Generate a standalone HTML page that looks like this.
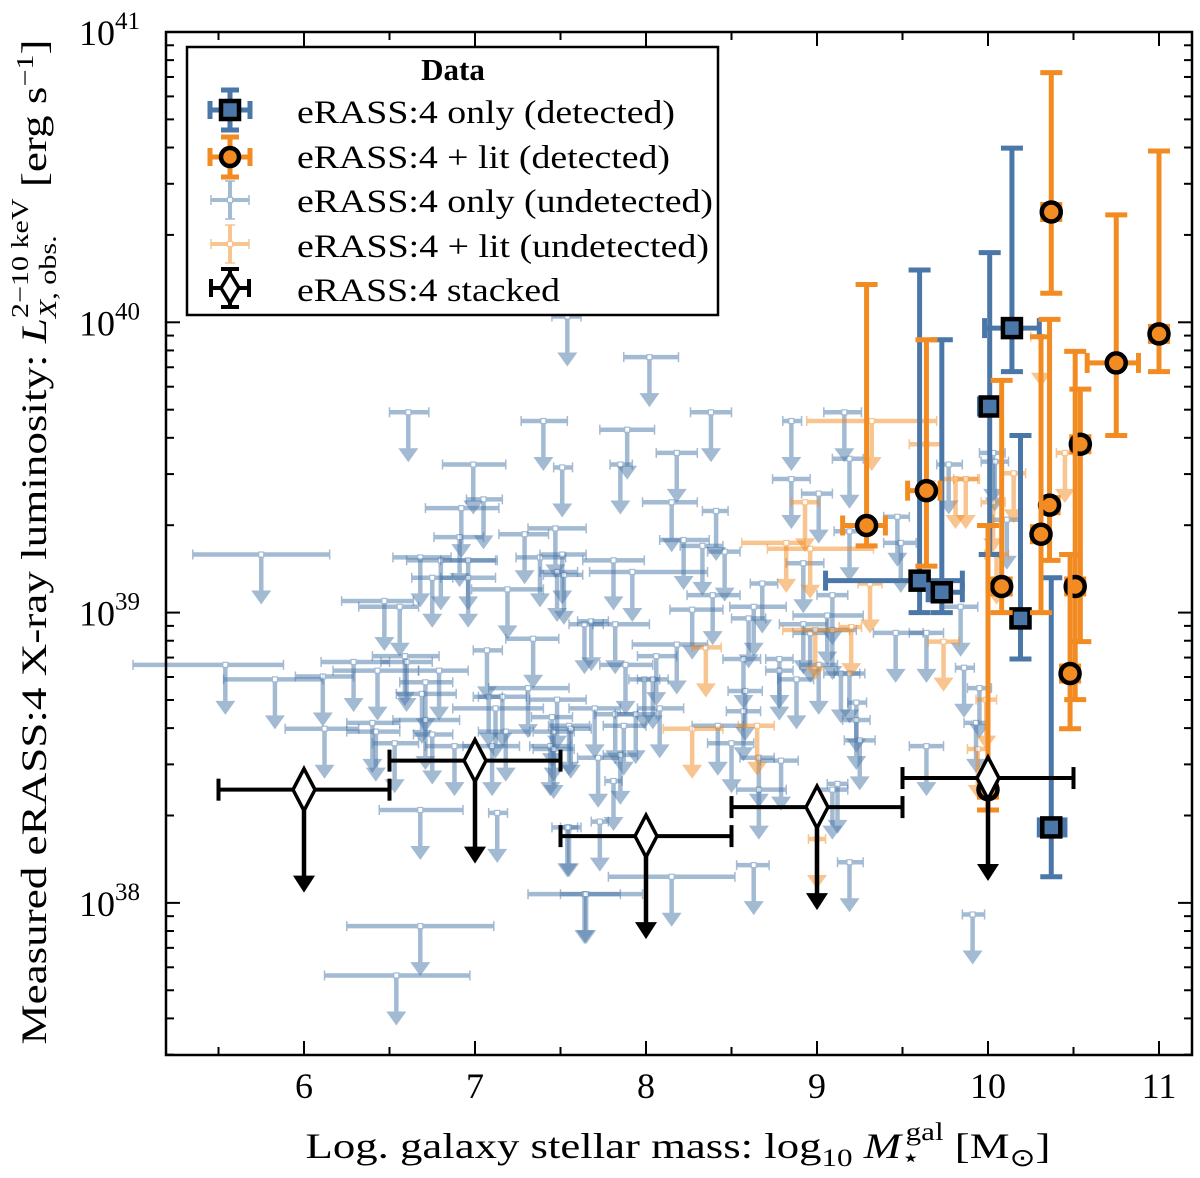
<!DOCTYPE html>
<html><head><meta charset="utf-8">
<style>
html,body{margin:0;padding:0;background:#fff;}
svg{display:block;font-family:"Liberation Serif",serif;}
</style></head>
<body>
<svg id="chart" xmlns="http://www.w3.org/2000/svg" width="1200" height="1178" viewBox="0 0 1200 1178">
  <g id="marks"></g>
  <g id="axes"></g>
  <g id="legend">
    <rect x="187" y="47" width="531" height="268" fill="#fff" stroke="#000" stroke-width="2.5"/>
    <text x="453" y="80" font-size="31" font-weight="bold" text-anchor="middle">Data</text>
    <g id="legmarks"></g>
    <text x="297" y="123" font-size="33" textLength="378" lengthAdjust="spacingAndGlyphs">eRASS:4 only (detected)</text>
    <text x="297" y="168" font-size="33" textLength="373" lengthAdjust="spacingAndGlyphs">eRASS:4 + lit (detected)</text>
    <text x="297" y="212" font-size="33" textLength="416" lengthAdjust="spacingAndGlyphs">eRASS:4 only (undetected)</text>
    <text x="297" y="257" font-size="33" textLength="412" lengthAdjust="spacingAndGlyphs">eRASS:4 + lit (undetected)</text>
    <text x="297" y="301" font-size="33" textLength="263" lengthAdjust="spacingAndGlyphs">eRASS:4 stacked</text>
  </g>
  <text transform="translate(46,542) rotate(-90)" font-size="36" text-anchor="middle" textLength="1005" lengthAdjust="spacingAndGlyphs">Measured eRASS:4 X-ray luminosity: <tspan font-style="italic">L</tspan><tspan font-size="24" dy="10" font-style="italic">X</tspan><tspan font-size="24">, obs.</tspan><tspan font-size="24" dx="-66" dy="-28">2−10 keV</tspan><tspan dy="18"> [erg s</tspan><tspan font-size="24" dy="-13">−1</tspan><tspan dy="13">]</tspan></text>
  <text x="678" y="1158" font-size="36" text-anchor="middle" textLength="745" lengthAdjust="spacingAndGlyphs">Log. galaxy stellar mass: log<tspan font-size="25" dy="8">10</tspan><tspan dy="-8"> </tspan><tspan font-style="italic">M</tspan><tspan font-size="25" dy="8">⋆</tspan><tspan font-size="25" dx="-12" dy="-26">gal</tspan><tspan dy="18"> [M</tspan><tspan font-size="25" dy="8">⊙</tspan><tspan dy="-8">]</tspan></text>
</svg>
<script>
// ---- data ----
// blue undetected upper limits: x, x-lower, x-upper, log L
const bux  =[6.61,6.99,7.40,7.51,5.75,6.92,7.05,6.91,6.68,6.80,6.96,6.75,6.96,7.19,7.29,7.47,7.38,7.51,7.48,7.52,6.47,6.56,7.34,5.54,5.83,6.11,6.29,6.43,6.59,6.60,6.79,6.71,6.69,6.71,6.75,6.12,6.40,6.42,6.53,6.88,7.07,7.08,7.16,7.12,7.18,7.10,7.31,7.48,7.45,7.46,7.44,7.46,7.55,6.68,7.13,7.55,6.68,6.54,7.64,7.64,
 7.54,8.02,8.38,7.89,7.85,8.18,8.15,8.41,8.22,8.33,8.46,7.81,7.92,8.85,9.16,9.19,8.85,9.01,9.19,9.47,9.49,9.77,10.03,10.04,10.11,9.84,8.68,8.39,8.63,8.60,8.92,9.09,8.27,9.06,8.92,8.96,9.09,7.68,7.82,8.18,8.06,7.88,8.57,8.78,8.78,8.88,9.01,9.14,9.19,9.46,9.64,9.86,9.95,9.93,8.58,8.57,8.42,8.50,8.66,8.79,8.66,9.23,9.23,9.25,9.64,9.12,9.09,8.63,9.19,8.15,7.65,9.91,7.54,7.73,7.81,7.72,7.87,7.99,8.04,8.08,7.70,7.82,7.94,7.56,7.85];
const buxlo=[6.50,6.81,7.27,7.46,5.35,6.71,6.95,6.76,6.52,6.60,6.80,6.63,6.80,6.98,7.14,7.31,7.24,7.38,7.38,7.40,6.22,6.32,7.18,5.0,5.53,5.95,6.10,6.17,6.40,6.45,6.67,6.56,6.54,6.52,6.64,5.89,6.25,6.25,6.40,6.71,6.99,6.99,7.02,6.87,7.02,6.93,7.08,7.32,7.33,7.34,7.32,7.34,7.43,6.44,7.08,7.50,6.25,6.12,7.31,7.55,
 7.45,7.87,8.26,7.73,7.79,8.06,7.98,8.33,8.08,8.20,8.36,7.63,7.67,8.80,9.04,9.09,8.74,8.91,9.10,9.39,9.39,9.70,9.95,9.96,10.03,9.74,8.61,8.24,8.49,8.50,8.82,9.00,8.14,8.86,8.78,8.86,8.92,7.60,7.69,7.92,7.95,7.73,8.45,8.70,8.70,8.77,8.90,9.04,9.10,9.33,9.54,9.81,9.88,9.86,8.48,8.47,8.27,8.36,8.55,8.67,8.53,9.18,9.15,9.16,9.54,9.06,9.00,8.53,9.12,7.78,7.50,9.85,7.45,7.68,7.76,7.60,7.75,7.90,7.95,7.95,7.55,7.70,7.82,7.45,7.75];
const buxhi=[6.73,7.18,7.54,7.57,6.15,7.14,7.16,7.05,6.86,7.12,7.13,6.87,7.12,7.40,7.43,7.65,7.53,7.65,7.60,7.63,6.64,6.67,7.49,5.88,6.11,6.29,6.50,6.67,6.79,6.75,6.96,6.87,6.89,6.91,6.87,6.32,6.56,6.56,6.67,7.01,7.16,7.16,7.30,7.40,7.32,7.26,7.55,7.65,7.57,7.58,7.56,7.58,7.67,6.93,7.19,7.60,7.11,6.97,7.85,7.75,
 7.62,8.19,8.50,8.05,7.92,8.30,8.30,8.48,8.37,8.45,8.55,7.99,8.36,8.91,9.26,9.27,8.96,9.09,9.28,9.54,9.58,9.85,10.10,10.12,10.20,9.94,8.77,8.55,8.82,8.70,9.04,9.18,8.45,9.27,9.06,9.06,9.23,7.78,8.02,8.36,8.18,8.04,8.67,8.86,8.86,8.98,9.12,9.25,9.28,9.62,9.74,9.92,10.02,10.00,8.68,8.67,8.57,8.63,8.75,8.89,8.82,9.29,9.31,9.34,9.74,9.18,9.18,8.72,9.27,8.52,7.98,9.98,7.62,7.78,7.86,7.84,8.00,8.08,8.13,8.22,7.85,7.95,8.06,7.68,7.95];
const buy  =[39.69,39.51,39.66,39.50,39.20,39.36,39.39,39.26,39.19,39.18,39.18,39.12,39.12,39.08,39.27,39.29,39.19,39.20,39.14,39.13,39.04,39.02,38.91,38.82,38.77,38.78,38.83,38.80,38.85,38.83,38.80,38.76,38.72,38.63,38.58,38.60,38.62,38.59,38.55,38.54,38.87,38.71,38.71,38.67,38.59,38.54,38.74,38.70,38.64,38.59,38.54,38.53,38.61,38.32,38.31,38.26,37.92,37.75,38.03,38.96,
 40.02,39.88,39.69,39.63,39.51,39.55,39.38,39.35,39.25,39.23,39.21,39.18,39.14,39.66,39.69,39.53,39.46,39.41,39.28,39.33,39.24,39.51,39.55,39.52,39.32,39.02,39.10,39.06,39.02,38.98,39.17,39.06,39.01,38.99,38.96,38.93,38.94,38.97,38.96,38.89,38.85,38.82,38.84,38.84,38.80,38.77,38.82,38.79,38.79,38.93,38.93,38.81,38.74,38.62,38.73,38.66,38.61,38.55,38.50,38.49,38.39,38.69,38.63,38.56,38.54,38.41,38.39,38.13,38.14,38.09,38.03,37.96,38.26,38.28,38.42,38.50,38.61,38.77,38.77,38.67,38.67,38.65,38.65,38.60,38.51];
// orange undetected upper limits
const oux  =[9.32,9.64,9.81,9.87,8.93,8.82,8.96,10.03,9.31,10.15,8.35,8.99,9.20,8.27,8.65,9.74,9.99,9.94,9.00,10.31,10.45,10.05];
const ouxlo=[8.94,9.54,9.74,9.80,8.85,8.56,8.71,9.96,9.24,10.08,8.27,8.80,9.13,8.10,8.54,9.65,9.93,9.88,8.95,10.25,10.40,9.98];
const ouxhi=[9.70,9.72,9.94,9.95,9.01,8.93,9.33,10.10,9.38,10.22,8.44,9.19,9.26,8.45,8.75,9.83,10.05,10.00,9.05,10.37,10.50,10.12];
const ouy  =[39.66,39.58,39.46,39.46,39.38,39.24,39.22,39.38,39.10,39.48,38.88,38.94,38.95,38.60,38.61,38.90,38.70,38.53,38.22,39.95,39.55,39.20];
// blue detected
const bdx  =[10.14,10.01,9.60,9.73,10.19,10.37];
const bdxlo=[9.98,9.95,9.05,9.65,10.14,10.30];
const bdxhi=[10.30,10.07,9.85,9.85,10.24,10.45];
const bdy  =[39.98,39.71,39.11,39.07,38.98,38.26];
const bdylo=[39.83,39.20,39.00,39.00,38.84,38.09];
const bdyhi=[40.60,40.24,40.18,39.94,39.61,39.12];
// orange detected
const odx  =[10.37,11.00,10.75,10.54,9.29,9.64,10.36,10.31,10.08,10.51,10.48,10.00];
const odxlo=[10.32,10.95,10.58,10.49,9.15,9.53,10.31,10.26,10.03,10.46,10.43,9.95];
const odxhi=[10.42,11.05,10.88,10.59,9.40,9.72,10.41,10.36,10.13,10.56,10.53,10.05];
const ody  =[40.38,39.96,39.86,39.58,39.30,39.42,39.37,39.27,39.09,39.09,38.79,38.39];
const odylo=[40.10,39.83,39.61,38.90,39.23,39.16,39.18,39.00,39.00,38.70,38.60,38.32];
const odyhi=[40.86,40.59,40.37,39.77,40.13,39.94,40.01,39.95,39.80,39.90,39.20,39.30];
// stacked
const sx  =[6,7,8,9,10];
const sxlo=[5.5,6.5,7.5,8.5,9.5];
const sxhi=[6.5,7.5,8.5,9.5,10.5];
const sy  =[38.39,38.49,38.23,38.33,38.43];
// ticks
const xTicks=[6,7,8,9,10,11];
const xTickLabels=["6","7","8","9","10","11"];
const yTicks=[38,39,40,41];
const yTickLabels=["38","39","40","41"];

// ---- scales ----
const L=166,R=1192,T=32,B=1055;
const X0=5.193,X1=11.193,Y0=37.476,Y1=41;
const sxf=v=>L+(v-X0)/(X1-X0)*(R-L);
const syf=v=>B-(v-Y0)/(Y1-Y0)*(B-T);
const NS="http://www.w3.org/2000/svg";
function mk(parent,tag,attrs){const e=document.createElementNS(NS,tag);for(const k in attrs)e.setAttribute(k,attrs[k]);parent.appendChild(e);return e;}

const marks=document.getElementById('marks');
const BLUE="#4a77a8",ORANGE="#f28b22";

function upperLimit(x,xlo,xhi,y,color,op,name){
  const g=mk(marks,'g',{opacity:op});
  
  
  const px=sxf(x),py=syf(y),a=sxf(xlo),b=sxf(xhi);
  mk(g,'line',{x1:a,y1:py,x2:b,y2:py,stroke:color,'stroke-width':4.5});
  mk(g,'line',{x1:a,y1:py-5,x2:a,y2:py+5,stroke:color,'stroke-width':1.5});
  mk(g,'line',{x1:b,y1:py-5,x2:b,y2:py+5,stroke:color,'stroke-width':1.5});
  mk(g,'line',{x1:px,y1:py,x2:px,y2:py+38,stroke:color,'stroke-width':4.5});
  mk(g,'path',{d:`M${px-10},${py+36}L${px+10},${py+36}L${px},${py+50}Z`,fill:color});
  mk(g,'rect',{x:px-2.5,y:py-2.5,width:5,height:5,fill:'#fff',stroke:color,'stroke-width':1.2});
}
for(let i=0;i<bux.length;i++) upperLimit(bux[i],buxlo[i],buxhi[i],buy[i],BLUE,0.5,'blue-upper-limit');
for(let i=0;i<oux.length;i++) upperLimit(oux[i],ouxlo[i],ouxhi[i],ouy[i],ORANGE,0.5,'orange-upper-limit');

function detected(x,xlo,xhi,y,ylo,yhi,color,shape,name){
  const g=mk(marks,'g',{});
  
  
  const px=sxf(x),py=syf(y),a=sxf(xlo),b=sxf(xhi),c=syf(ylo),d=syf(yhi);
  mk(g,'line',{x1:a,y1:py,x2:b,y2:py,stroke:color,'stroke-width':5});
  mk(g,'line',{x1:a,y1:py-10,x2:a,y2:py+10,stroke:color,'stroke-width':5});
  mk(g,'line',{x1:b,y1:py-10,x2:b,y2:py+10,stroke:color,'stroke-width':5});
  mk(g,'line',{x1:px,y1:c,x2:px,y2:d,stroke:color,'stroke-width':5});
  mk(g,'line',{x1:px-11,y1:c,x2:px+11,y2:c,stroke:color,'stroke-width':5});
  mk(g,'line',{x1:px-11,y1:d,x2:px+11,y2:d,stroke:color,'stroke-width':5});
  if(shape==='sq') mk(g,'rect',{x:px-9,y:py-9,width:18,height:18,fill:color,stroke:'#000','stroke-width':4.5});
  else mk(g,'circle',{cx:px,cy:py,r:9.5,fill:color,stroke:'#000','stroke-width':4.5});
}
for(let i=0;i<bdx.length;i++) detected(bdx[i],bdxlo[i],bdxhi[i],bdy[i],bdylo[i],bdyhi[i],BLUE,'sq','blue-detected-point');
for(let i=0;i<odx.length;i++) detected(odx[i],odxlo[i],odxhi[i],ody[i],odylo[i],odyhi[i],ORANGE,'ci','orange-detected-point');

for(let i=0;i<sx.length;i++){
  const g=mk(marks,'g',{});
  
  
  const px=sxf(sx[i]),py=syf(sy[i]),a=sxf(sxlo[i]),b=sxf(sxhi[i]);
  mk(g,'line',{x1:a,y1:py,x2:b,y2:py,stroke:'#000','stroke-width':4});
  mk(g,'line',{x1:a,y1:py-11,x2:a,y2:py+11,stroke:'#000','stroke-width':4});
  mk(g,'line',{x1:b,y1:py-11,x2:b,y2:py+11,stroke:'#000','stroke-width':4});
  mk(g,'line',{x1:px,y1:py,x2:px,y2:py+88,stroke:'#000','stroke-width':4.5});
  mk(g,'path',{d:`M${px-11},${py+86}L${px+11},${py+86}L${px},${py+103}Z`,fill:'#000'});
  mk(g,'path',{d:`M${px},${py-21}L${px+11},${py}L${px},${py+21}L${px-11},${py}Z`,fill:'#fff',stroke:'#000','stroke-width':3.5});
}

// ---- axes ----
const ax=document.getElementById('axes');
const frame=mk(ax,'rect',{x:L,y:T,width:R-L,height:B-T,fill:'none',stroke:'#000','stroke-width':2.5});


for(let v=5.5;v<=11.01;v+=0.5){
  const px=sxf(v),len=(Math.abs(v-Math.round(v))<1e-6)?14:8;
  mk(ax,'line',{x1:px,y1:B,x2:px,y2:B-len,stroke:'#000','stroke-width':2});
  mk(ax,'line',{x1:px,y1:T,x2:px,y2:T+len,stroke:'#000','stroke-width':2});
}
xTicks.forEach((v,i)=>{
  const t=mk(ax,'text',{x:sxf(v),y:1098,'font-size':36,'text-anchor':'middle'});
  
  
  t.textContent=xTickLabels[i];
});
for(let d=37;d<=40;d++){
  for(let m=1;m<=9;m++){
    const v=d+Math.log10(m); if(v<Y0||v>Y1) continue;
    const py=syf(v),len=m===1?14:8;
    mk(ax,'line',{x1:L,y1:py,x2:L+len,y2:py,stroke:'#000','stroke-width':2});
    mk(ax,'line',{x1:R,y1:py,x2:R-len,y2:py,stroke:'#000','stroke-width':2});
  }
}
yTicks.forEach((v,i)=>{
  const py=syf(v);
  const t=mk(ax,'text',{x:79,y:py+13,'font-size':36,'text-anchor':'start'});
  
  
  t.textContent='10';
  const s=mk(t,'tspan',{'font-size':25,dy:-16});
  s.textContent=yTickLabels[i];
});

// ---- legend markers ----
const lg=document.getElementById('legmarks');
function legDet(y,color,shape){
  const g=mk(lg,'g',{}); const x=230;
  
  
  mk(g,'line',{x1:x-20,y1:y,x2:x+20,y2:y,stroke:color,'stroke-width':5});
  mk(g,'line',{x1:x-20,y1:y-9,x2:x-20,y2:y+9,stroke:color,'stroke-width':5});
  mk(g,'line',{x1:x+20,y1:y-9,x2:x+20,y2:y+9,stroke:color,'stroke-width':5});
  mk(g,'line',{x1:x,y1:y-20,x2:x,y2:y+20,stroke:color,'stroke-width':5});
  mk(g,'line',{x1:x-9,y1:y-20,x2:x+9,y2:y-20,stroke:color,'stroke-width':5});
  mk(g,'line',{x1:x-9,y1:y+20,x2:x+9,y2:y+20,stroke:color,'stroke-width':5});
  if(shape==='sq') mk(g,'rect',{x:x-9,y:y-9,width:18,height:18,fill:color,stroke:'#000','stroke-width':4.5});
  else mk(g,'circle',{cx:x,cy:y,r:9,fill:color,stroke:'#000','stroke-width':4.5});
}
function legUL(y,color){
  const g=mk(lg,'g',{opacity:0.5}); const x=230;
  
  
  mk(g,'line',{x1:x-19,y1:y,x2:x+19,y2:y,stroke:color,'stroke-width':4});
  mk(g,'line',{x1:x,y1:y-19,x2:x,y2:y+19,stroke:color,'stroke-width':4});
  mk(g,'line',{x1:x-19,y1:y-5,x2:x-19,y2:y+5,stroke:color,'stroke-width':1.5});
  mk(g,'line',{x1:x+19,y1:y-5,x2:x+19,y2:y+5,stroke:color,'stroke-width':1.5});
  mk(g,'line',{x1:x-5,y1:y-19,x2:x+5,y2:y-19,stroke:color,'stroke-width':1.5});
  mk(g,'line',{x1:x-5,y1:y+19,x2:x+5,y2:y+19,stroke:color,'stroke-width':1.5});
  mk(g,'rect',{x:x-2.5,y:y-2.5,width:5,height:5,fill:'#fff',stroke:color,'stroke-width':1.2});
}
legDet(110,BLUE,'sq'); legDet(157,ORANGE,'ci'); legUL(200,BLUE); legUL(244,ORANGE);
(function(){const g=mk(lg,'g',{}),x=230,y=288;
 
 
 mk(g,'line',{x1:x-19,y1:y,x2:x+19,y2:y,stroke:'#000','stroke-width':4});
 mk(g,'line',{x1:x-19,y1:y-9,x2:x-19,y2:y+9,stroke:'#000','stroke-width':4});
 mk(g,'line',{x1:x+19,y1:y-9,x2:x+19,y2:y+9,stroke:'#000','stroke-width':4});
 mk(g,'line',{x1:x,y1:y-19,x2:x,y2:y+19,stroke:'#000','stroke-width':4});
 mk(g,'line',{x1:x-9,y1:y-19,x2:x+9,y2:y-19,stroke:'#000','stroke-width':4});
 mk(g,'line',{x1:x-9,y1:y+19,x2:x+9,y2:y+19,stroke:'#000','stroke-width':4});
 mk(g,'path',{d:`M${x},${y-15}L${x+9},${y}L${x},${y+15}L${x-9},${y}Z`,fill:'#fff',stroke:'#000','stroke-width':3.5});
})();
</script>
</body></html>
